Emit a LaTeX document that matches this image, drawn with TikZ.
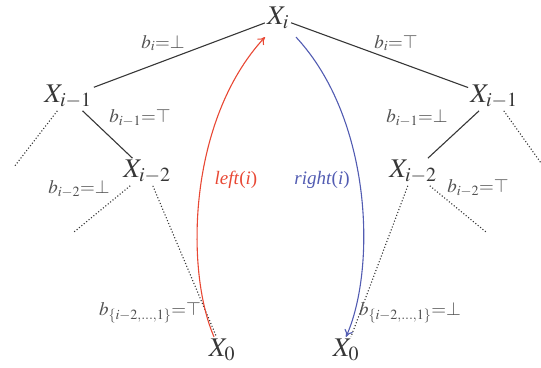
\documentclass[tikz,border=0pt]{standalone}
\usepackage{mathptmx}
\usepackage{fontspec}
\setmainfont{Liberation Serif}
\usetikzlibrary{arrows.meta}
\definecolor{trgray}{RGB}{55,55,55}
\definecolor{trlabel}{RGB}{80,80,80}
\definecolor{trleft}{RGB}{232,72,52}
\definecolor{trright}{RGB}{82,92,178}
\tikzset{
  var/.style={font=\fontsize{27}{30}\selectfont, text=trgray, inner sep=2pt},
  lab/.style={font=\fontsize{19}{22}\selectfont, text=trlabel, inner sep=1pt},
  edge/.style={draw=trgray, line width=1.1pt},
  dots/.style={draw=trgray, line width=1.1pt, dotted},
  leftarr/.style={-{To[length=7pt,width=9pt]}, draw=trleft, line width=1.1pt},
  rightarr/.style={-{To[length=7pt,width=9pt]}, draw=trright, line width=1.1pt},
}
\begin{document}
\begin{tikzpicture}[x=1pt, y=-1pt]
  \useasboundingbox (0,0) rectangle (541,367);

  % ===== tree nodes =====
  \node[var] (xi) at (278,18) {$X_i$};
  \node[var] (la) at (68,97) {$X_{i-1}$};
  \node[var] (ra) at (494,97) {$X_{i-1}$};
  \node[var] (lb) at (147,172) {$X_{i-2}$};
  \node[var] (rb) at (413,172) {$X_{i-2}$};
  \node[var] (x0l) at (222,350) {$X_0$};
  \node[var] (x0r) at (346,350) {$X_0$};

  % loose ends of the dotted branches
  \coordinate (lafree) at (14,167);
  \coordinate (rafree) at (541,163);
  \coordinate (lbfree) at (74,232);
  \coordinate (rbfree) at (486,232);

  % ===== edges =====
  \draw[edge] (xi) -- (la);
  \draw[edge] (xi) -- (ra);
  \draw[edge] (la) -- (lb);
  \draw[edge] (ra) -- (rb);
  \draw[dots] (la) -- (lafree);
  \draw[dots] (ra) -- (rafree);
  \draw[dots] (lb) -- (lbfree);
  \draw[dots] (rb) -- (rbfree);
  \draw[dots] (lb) -- (x0l);
  \draw[dots] (rb) -- (x0r);

  % ===== bit labels =====
  \node[lab] (bl) at (163,43) {$b_i{=}\bot$};
  \node[lab] (br) at (396,43) {$b_i{=}\top$};
  \node[lab] (bl1) at (140,118) {$b_{i-1}{=}\top$};
  \node[lab] (br1) at (417,118) {$b_{i-1}{=}\bot$};
  \node[lab] (bl2) at (79,189) {$b_{i-2}{=}\bot$};
  \node[lab] (br2) at (478,188) {$b_{i-2}{=}\top$};
  \node[lab] (bl3) at (150,313) {$b_{\{i-2,\ldots,1\}}{=}\top$};
  \node[lab] (br3) at (410,313) {$b_{\{i-2,\ldots,1\}}{=}\bot$};

  % ===== left / right walks =====
  \draw[leftarr] ([xshift=-8pt]x0l.north) .. controls (185,270) and (188,120) .. ([xshift=-13pt,yshift=-6pt]xi.south);
  \draw[rightarr] ([xshift=18pt,yshift=-6pt]xi.south) .. controls (373,120) and (376,270) .. (x0r.north);
  \node[lab, text=trleft] (lw) at (236,180) {\textit{left}(\textit{i})};
  \node[lab, text=trright] (rw) at (322,180) {\textit{right}(\textit{i})};

\end{tikzpicture}
\end{document}
